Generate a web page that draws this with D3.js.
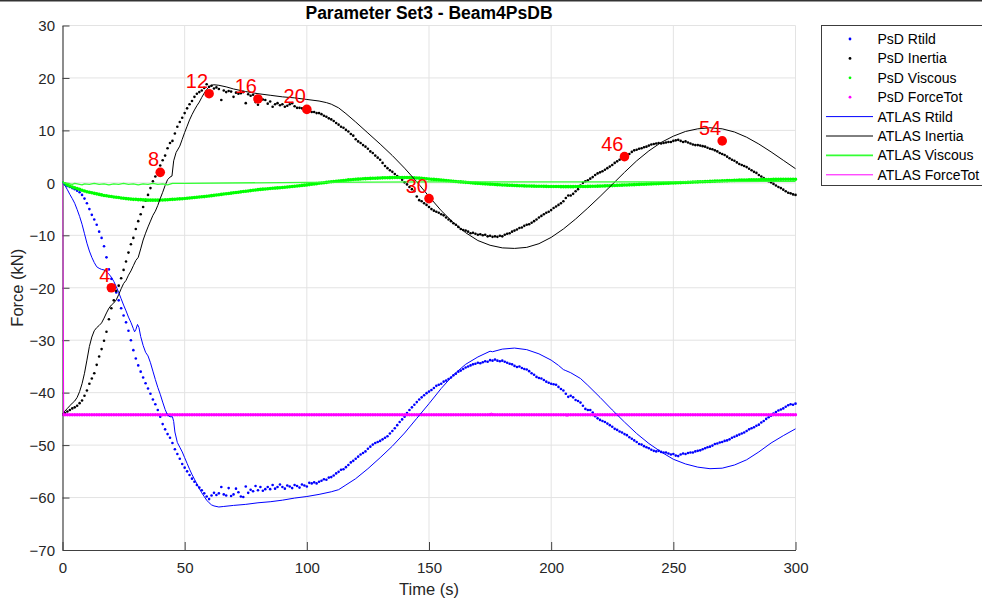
<!DOCTYPE html>
<html>
<head>
<meta charset="utf-8">
<script src="https://cdn.jsdelivr.net/npm/d3@7/dist/d3.min.js"></script>
<style>
  html, body { margin: 0; padding: 0; background: #fff; }
  svg { display: block; font-family: "Liberation Sans", Arial, Helvetica, sans-serif; }
</style>
</head>
<body>
<svg id="chart" width="982" height="600"></svg>
<script>
// ---------------- DATA ----------------
const chartTitle = "Parameter Set3 - Beam4PsDB";
const xLabel = "Time (s)";
const yLabel = "Force (kN)";
const xTicks = [0, 50, 100, 150, 200, 250, 300];
const yTicks = [30, 20, 10, 0, -10, -20, -30, -40, -50, -60, -70];

const seriesNames = ["PsD Rtild", "PsD Inertia", "PsD Viscous", "PsD ForceTot",
                     "ATLAS Rtild", "ATLAS Inertia", "ATLAS Viscous", "ATLAS ForceTot"];

// PsD samples every 1 s from 0 to 300 s
const psdTime = d3.range(0, 301, 1);

const psdRtild = [
  0,-0.3,-0.6,-0.8,-1.0,-1.2,-1.5,-1.8,-2.3,-3.0,-3.9,-5.0,-6.1,-7.0,-8.0,-9.3,-10.5,-12.1,-14.2,-16.5,-18.3,
  -19.6,-20.9,-22.4,-23.9,-25.3,-26.6,-28.2,-30.0,-31.9,-33.5,-34.8,-36.0,-37.1,-38.2,-39.2,-40.2,-41.3,-42.2,-43.3,-44.6,
  -46.0,-47.0,-47.9,-48.6,-49.6,-50.8,-51.7,-52.6,-53.6,-54.3,-55.0,-55.7,-56.4,-57.0,-57.6,-58.1,-58.6,-59.2,-59.8,-60.3,
  -59.6,-59.1,-59.5,-59.2,-58.0,-59.4,-59.6,-58.2,-59.7,-59.4,-58.3,-59.0,-59.8,-59.9,-57.9,-59.1,-58.5,-58.8,-57.8,-58.6,
  -58.0,-58.7,-58.4,-58.0,-58.4,-57.6,-58.3,-58.0,-57.5,-58.0,-58.3,-57.7,-57.9,-58.2,-57.6,-57.8,-58.1,-57.5,-57.7,-57.9,
  -57.2,-57.3,-57.1,-57.3,-57.0,-56.8,-56.5,-56.6,-56.2,-56.1,-55.8,-55.4,-55.1,-54.7,-54.6,-54.2,-53.8,-53.3,-53.0,-52.6,
  -52.2,-51.8,-51.5,-51.2,-50.7,-50.3,-49.9,-49.6,-49.4,-49.2,-48.9,-48.6,-48.3,-47.8,-47.3,-46.8,-46.2,-45.6,-45.1,-44.6,
  -43.9,-43.3,-42.8,-42.3,-41.8,-41.3,-40.9,-40.5,-40.1,-39.8,-39.5,-39.1,-38.7,-38.5,-38.3,-37.9,-37.7,-37.4,-37.1,-36.7,
  -36.4,-36.0,-35.8,-35.5,-35.2,-35.0,-34.8,-34.6,-34.5,-34.3,-34.4,-34.2,-34.0,-34.1,-33.8,-33.9,-33.7,-33.9,-34.0,-33.9,
  -34.1,-34.3,-34.5,-34.6,-34.9,-35.1,-35.0,-35.3,-35.5,-35.6,-35.9,-36.3,-36.6,-37.0,-37.2,-37.3,-37.6,-37.9,-38.1,-38.3,
  -38.4,-38.5,-38.9,-39.3,-39.6,-40.2,-40.8,-40.6,-40.9,-41.4,-41.6,-41.9,-42.5,-43.1,-43.3,-43.3,-43.8,-44.5,-44.9,-45.2,
  -45.4,-45.6,-45.9,-46.2,-46.5,-46.9,-47.1,-47.4,-47.6,-47.9,-48.1,-48.5,-48.8,-49.1,-49.4,-49.8,-49.9,-50.2,-50.4,-50.6,
  -50.9,-51.1,-51.2,-51.1,-51.3,-51.4,-51.4,-51.6,-51.8,-51.7,-52.0,-52.1,-51.8,-51.6,-51.7,-51.5,-51.4,-51.4,-51.2,-51.1,
  -51.0,-50.8,-50.6,-50.4,-50.3,-50.1,-49.8,-49.7,-49.5,-49.4,-49.2,-49.1,-48.9,-48.6,-48.4,-48.2,-48.0,-47.8,-47.6,-47.3,
  -47.0,-46.8,-46.6,-46.3,-46.1,-45.7,-45.4,-45.0,-44.7,-44.4,-44.0,-43.7,-43.4,-43.2,-43.0,-42.7,-42.4,-42.2,-42.3,-42.1
];

const psdInertia = [
  -44.2,-43.9,-43.6,-43.3,-43.0,-42.8,-42.5,-42.0,-41.5,-40.6,-39.6,-38.3,-37.3,-36.3,-34.7,-33.1,-31.7,-30.1,-28.4,-26.0,-23.9,
  -22.4,-20.6,-19.6,-18.2,-16.6,-15.0,-13.3,-11.7,-10.5,-8.8,-7.3,-6.0,-4.6,-3.4,-2.3,-1.0,0.3,1.2,2.2,3.3,
  4.3,5.2,6.6,7.6,8.0,9.4,10.7,11.6,12.4,13.3,14.2,15.0,15.6,16.4,17.0,17.3,17.6,18.1,18.8,18.3,
  18.5,18.0,18.2,17.9,15.8,17.6,17.3,17.5,17.4,16.4,17.2,17.0,17.1,17.3,15.2,16.9,16.6,16.8,15.4,14.9,
  16.3,15.9,15.8,15.1,15.5,14.5,15.0,15.2,14.8,15.0,14.5,14.7,15.0,15.2,14.6,14.3,14.3,14.2,14.0,13.9,
  13.7,13.5,13.5,13.3,13.3,13.1,12.8,12.6,12.3,12.1,11.8,11.4,11.1,10.7,10.5,10.1,9.8,9.3,9.0,8.3,
  7.9,7.6,7.2,6.9,6.5,6.0,5.7,5.2,4.8,4.4,3.8,3.2,2.8,2.4,2.1,1.7,1.3,1.0,0.6,0.1,
  -0.3,-0.8,-1.2,-1.6,-2.6,-3.3,-3.5,-3.9,-4.2,-4.6,-5.0,-5.3,-5.5,-5.7,-6.0,-6.2,-6.6,-7.0,-7.3,-7.7,
  -8.0,-8.4,-8.8,-9.0,-9.1,-9.3,-9.6,-9.5,-9.7,-9.9,-9.8,-10.0,-9.9,-10.2,-10.1,-10.3,-10.2,-10.3,-10.1,-10.2,
  -9.9,-9.7,-9.6,-9.3,-9.1,-8.9,-8.6,-8.5,-8.2,-8.0,-7.9,-7.6,-7.3,-7.0,-6.6,-6.3,-6.0,-5.7,-5.5,-5.2,
  -4.8,-4.5,-4.2,-3.9,-3.5,-2.9,-2.4,-2.4,-2.1,-1.6,-1.2,-0.5,0.0,0.3,0.5,0.8,1.1,1.5,1.8,2.0,
  2.2,2.5,2.8,3.1,3.4,3.8,4.1,4.4,4.7,5.0,5.3,5.5,5.9,6.2,6.3,6.5,6.6,6.8,6.9,7.1,
  7.3,7.4,7.5,7.6,7.5,7.6,7.7,7.8,7.8,8.0,8.1,8.2,8.0,7.8,7.9,7.7,7.5,7.3,7.2,7.2,
  7.1,7.0,6.9,6.7,6.5,6.4,6.2,6.0,5.7,5.5,5.3,5.0,4.7,4.4,4.2,3.9,3.6,3.4,3.2,3.0,
  2.7,2.4,2.1,1.9,1.5,1.2,0.9,0.6,0.3,0.1,-0.2,-0.5,-0.8,-1.0,-1.3,-1.6,-1.9,-2.0,-2.2,-2.3
];

const psdViscous = [
  0,-0.2,-0.4,-0.6,-0.8,-0.95,-1.1,-1.25,-1.4,-1.55,-1.7,-1.8,-1.9,-2.0,-2.1,-2.2,-2.3,-2.4,-2.45,-2.55,-2.6,
  -2.7,-2.75,-2.8,-2.9,-2.95,-3.0,-3.05,-3.1,-3.15,-3.15,-3.2,-3.2,-3.25,-3.25,-3.3,-3.3,-3.3,-3.3,-3.3,-3.28,
  -3.26,-3.24,-3.21,-3.18,-3.15,-3.12,-3.09,-3.05,-3.02,-2.98,-2.94,-2.9,-2.85,-2.8,-2.75,-2.7,-2.66,-2.62,-2.56,-2.5,
  -2.44,-2.38,-2.32,-2.26,-2.2,-2.14,-2.08,-2.02,-1.96,-1.9,-1.84,-1.78,-1.72,-1.66,-1.6,-1.54,-1.48,-1.42,-1.36,-1.3,
  -1.25,-1.2,-1.16,-1.12,-1.08,-1.04,-1.0,-0.96,-0.92,-0.88,-0.84,-0.79,-0.74,-0.69,-0.64,-0.59,-0.54,-0.49,-0.44,-0.39,
  -0.33,-0.27,-0.21,-0.15,-0.09,-0.03,0.03,0.09,0.15,0.21,0.26,0.31,0.36,0.41,0.46,0.51,0.56,0.6,0.64,0.68,
  0.71,0.74,0.77,0.8,0.83,0.85,0.87,0.89,0.91,0.93,0.95,0.97,0.98,0.99,1.0,1.01,1.02,1.03,1.03,1.03,
  1.02,1.0,0.98,0.96,0.93,0.9,0.86,0.82,0.78,0.74,0.7,0.66,0.62,0.57,0.52,0.48,0.43,0.39,0.34,0.3,
  0.26,0.22,0.18,0.14,0.1,0.06,0.02,-0.02,-0.06,-0.1,-0.13,-0.16,-0.19,-0.22,-0.25,-0.28,-0.31,-0.34,-0.37,-0.4,
  -0.42,-0.44,-0.46,-0.48,-0.5,-0.52,-0.54,-0.56,-0.58,-0.6,-0.61,-0.62,-0.63,-0.64,-0.65,-0.66,-0.67,-0.68,-0.69,-0.7,
  -0.7,-0.71,-0.71,-0.72,-0.72,-0.72,-0.72,-0.72,-0.72,-0.71,-0.71,-0.7,-0.7,-0.69,-0.68,-0.67,-0.66,-0.65,-0.63,-0.62,
  -0.6,-0.58,-0.56,-0.54,-0.52,-0.5,-0.48,-0.46,-0.44,-0.42,-0.4,-0.38,-0.36,-0.34,-0.32,-0.3,-0.28,-0.26,-0.24,-0.22,
  -0.2,-0.18,-0.16,-0.14,-0.12,-0.1,-0.08,-0.06,-0.04,-0.02,0.0,0.02,0.04,0.06,0.08,0.1,0.12,0.14,0.16,0.18,
  0.2,0.22,0.24,0.26,0.28,0.3,0.32,0.34,0.36,0.38,0.4,0.42,0.44,0.46,0.48,0.5,0.52,0.53,0.54,0.55,
  0.56,0.57,0.58,0.59,0.6,0.61,0.62,0.63,0.64,0.65,0.66,0.66,0.67,0.67,0.68,0.68,0.69,0.69,0.7,0.7
];

const psdForceTot = [
  -44.2,-44.2,-44.2,-44.2,-44.2,-44.2,-44.2,-44.2,-44.2,-44.2,-44.2,-44.2,-44.2,-44.2,-44.2,-44.2,-44.2,-44.2,-44.2,-44.2,-44.2,
  -44.2,-44.2,-44.2,-44.2,-44.2,-44.2,-44.2,-44.2,-44.2,-44.2,-44.2,-44.2,-44.2,-44.2,-44.2,-44.2,-44.2,-44.2,-44.2,-44.2,
  -44.2,-44.2,-44.2,-44.2,-44.2,-44.2,-44.2,-44.2,-44.2,-44.2,-44.2,-44.2,-44.2,-44.2,-44.2,-44.2,-44.2,-44.2,-44.2,-44.2,
  -44.2,-44.2,-44.2,-44.2,-44.2,-44.2,-44.2,-44.2,-44.2,-44.2,-44.2,-44.2,-44.2,-44.2,-44.2,-44.2,-44.2,-44.2,-44.2,-44.2,
  -44.2,-44.2,-44.2,-44.2,-44.2,-44.2,-44.2,-44.2,-44.2,-44.2,-44.2,-44.2,-44.2,-44.2,-44.2,-44.2,-44.2,-44.2,-44.2,-44.2,
  -44.2,-44.2,-44.2,-44.2,-44.2,-44.2,-44.2,-44.2,-44.2,-44.2,-44.2,-44.2,-44.2,-44.2,-44.2,-44.2,-44.2,-44.2,-44.2,-44.2,
  -44.2,-44.2,-44.2,-44.2,-44.2,-44.2,-44.2,-44.2,-44.2,-44.2,-44.2,-44.2,-44.2,-44.2,-44.2,-44.2,-44.2,-44.2,-44.2,-44.2,
  -44.2,-44.2,-44.2,-44.2,-44.2,-44.2,-44.2,-44.2,-44.2,-44.2,-44.2,-44.2,-44.2,-44.2,-44.2,-44.2,-44.2,-44.2,-44.2,-44.2,
  -44.2,-44.2,-44.2,-44.2,-44.2,-44.2,-44.2,-44.2,-44.2,-44.2,-44.2,-44.2,-44.2,-44.2,-44.2,-44.2,-44.2,-44.2,-44.2,-44.2,
  -44.2,-44.2,-44.2,-44.2,-44.2,-44.2,-44.2,-44.2,-44.2,-44.2,-44.2,-44.2,-44.2,-44.2,-44.2,-44.2,-44.2,-44.2,-44.2,-44.2,
  -44.2,-44.2,-44.2,-44.2,-44.2,-44.2,-44.2,-44.2,-44.2,-44.2,-44.2,-44.2,-44.2,-44.2,-44.2,-44.2,-44.2,-44.2,-44.2,-44.2,
  -44.2,-44.2,-44.2,-44.2,-44.2,-44.2,-44.2,-44.2,-44.2,-44.2,-44.2,-44.2,-44.2,-44.2,-44.2,-44.2,-44.2,-44.2,-44.2,-44.2,
  -44.2,-44.2,-44.2,-44.2,-44.2,-44.2,-44.2,-44.2,-44.2,-44.2,-44.2,-44.2,-44.2,-44.2,-44.2,-44.2,-44.2,-44.2,-44.2,-44.2,
  -44.2,-44.2,-44.2,-44.2,-44.2,-44.2,-44.2,-44.2,-44.2,-44.2,-44.2,-44.2,-44.2,-44.2,-44.2,-44.2,-44.2,-44.2,-44.2,-44.2,
  -44.2,-44.2,-44.2,-44.2,-44.2,-44.2,-44.2,-44.2,-44.2,-44.2,-44.2,-44.2,-44.2,-44.2,-44.2,-44.2,-44.2,-44.2,-44.2,-44.2
];

// ATLAS lines: [time, value] samples
const atlasRtildTime = [0,1,2,3,4,5,6,7,8,9,10,11,12,13,14,15,16,17,18,19,20,21,22,23,24,25,26,27,28,29,29.5,30,30.7,31.3,32,33,34,35,36,37,38,39,40,41,42,43,44,45,45.5,46,47,48,49,50,51,52,53,54,55,56,57,58,59,60,61,62,64,66,70,75,80,85,90,95,100,105,110,113,116,120,125,130,135,140,145,150,155,160,165,170,175,176,180,185,190,195,200,203,205,206,208,212,215,220,225,230,235,240,245,250,255,260,265,270,275,280,285,290,295,300];
const atlasRtild = [0,-0.5,-1.3,-2.2,-3.0,-3.9,-5.1,-6.4,-7.9,-9.7,-11.5,-13.0,-14.2,-15.2,-16.0,-16.3,-16.5,-16.6,-16.9,-17.4,-18.0,-18.8,-19.8,-20.9,-22.1,-23.3,-24.4,-25.6,-26.6,-27.8,-28.4,-28.0,-27.0,-27.6,-29.3,-31.0,-32.3,-33.0,-34.3,-35.9,-37.5,-39.0,-40.3,-41.8,-43.2,-44.3,-44.6,-44.6,-45.5,-47.5,-49.5,-50.4,-51.3,-52.4,-53.5,-54.6,-55.6,-56.5,-57.4,-58.3,-59.1,-59.8,-60.5,-61.0,-61.4,-61.6,-61.8,-61.7,-61.5,-61.3,-61.0,-60.8,-60.5,-60.1,-59.8,-59.4,-58.9,-58.5,-57.6,-56.4,-54.5,-52.4,-50.2,-47.7,-44.9,-42.1,-39.2,-36.6,-34.6,-33.2,-32.1,-32.2,-31.7,-31.5,-31.8,-32.6,-33.8,-34.8,-35.6,-35.8,-36.2,-37.3,-38.6,-40.9,-43.3,-45.6,-47.8,-49.7,-51.3,-52.7,-53.6,-54.2,-54.5,-54.4,-53.8,-52.8,-51.3,-49.6,-48.2,-46.9];

const atlasInertiaTime = [0,1,2,3,4,5,6,7,8,9,10,11,12,13,14,15,16,17,18,19,20,21,22,23,24,25,26,27,28,29,30,31,32,33,34,35,36,37,38,39,40,41,42,43,44,44.8,45.5,46.5,48,49,50,51,52,53,54,55,56,57,58,59,60,61,62,64,67,70,75,80,85,90,95,100,105,108,110,113,116,120,125,130,135,140,145,150,155,160,165,170,175,180,185,190,195,200,205,210,215,220,225,230,235,240,245,250,255,260,265,270,275,280,285,290,295,300];
const atlasInertia = [-44.0,-43.5,-43.0,-42.5,-42.0,-41.6,-40.9,-39.8,-38.3,-36.3,-33.8,-31.2,-29.4,-28.2,-27.6,-27.2,-26.7,-25.8,-24.8,-23.9,-23.3,-22.9,-22.3,-21.3,-20.2,-19.2,-18.6,-17.6,-16.8,-15.8,-14.8,-14.2,-12.6,-10.9,-9.6,-8.4,-7.3,-6.2,-5.4,-4.3,-3.0,-1.8,-0.5,0.6,1.1,1.3,4.2,5.8,7.0,8.3,9.6,10.8,12.0,13.0,13.9,14.7,15.4,16.3,17.1,17.8,18.3,18.6,18.7,18.6,18.3,17.9,17.4,17.0,16.7,16.4,16.2,15.9,15.6,15.3,15.0,14.3,13.2,11.6,9.5,7.4,5.2,2.8,0.2,-2.6,-5.3,-7.6,-9.5,-11.0,-11.9,-12.4,-12.5,-12.3,-11.6,-10.4,-8.8,-6.9,-4.8,-2.6,-0.3,2.0,4.2,6.1,7.7,8.9,9.8,10.3,10.5,10.3,9.7,8.7,7.4,5.9,4.3,2.7];

const atlasViscousTime = [0,2,4,5,6,8,9,11,13,15,17,19,21,23,25,27,29,31,33,35,37,39,41,43,45,50,100,150,200,250,300];
const atlasViscous = [0,-0.1,-0.3,-0.1,-0.2,-0.4,-0.2,-0.3,-0.1,-0.3,-0.2,-0.4,-0.2,-0.3,-0.1,-0.3,-0.2,-0.4,-0.2,-0.3,-0.1,-0.3,-0.2,-0.4,-0.1,-0.1,0.1,0.2,0.2,0.2,0.3];

const atlasForceTotTime = [0,0.5,100,174,175.5,177,205,206.5,208,300];
const atlasForceTot = [0,-44.2,-44.2,-44.2,-43.9,-44.2,-44.2,-44.5,-44.2,-44.2];

// Red highlighted points
const markerTimes = [20, 40, 60, 80, 100, 150, 230, 270];
const markerValues = [-20, 2, 17, 16, 14, -3, 5, 8];
const markerLabels = ["4", "8", "12", "16", "20", "30", "46", "54"];

// ---------------- DRAWING ----------------
const svg = d3.select("#chart");
const x = d3.scaleLinear().domain([0, 300]).range([62.5, 795.5]);
const y = d3.scaleLinear().domain([-70, 30]).range([550, 25.5]);

// top figure border line
svg.append("rect").attr("x", 0).attr("y", 0).attr("width", 982).attr("height", 1.5).attr("fill", "#333");

// grid
const grid = svg.append("g").attr("stroke", "#e3e3e3").attr("stroke-width", 1);
xTicks.filter(d => d > 0).forEach(d => {
  grid.append("line").attr("x1", x(d)).attr("x2", x(d)).attr("y1", y(-70)).attr("y2", y(30));
});
yTicks.filter(d => d > -70).forEach(d => {
  grid.append("line").attr("x1", x(0)).attr("x2", x(300)).attr("y1", y(d)).attr("y2", y(d));
});

// axes
const axisColor = "#404040";
const xAxis = svg.append("g").attr("transform", `translate(0,${y(-70)})`)
  .call(d3.axisBottom(x).tickValues(xTicks).tickSizeInner(-8).tickSizeOuter(0).tickPadding(0));
xAxis.select(".domain").attr("stroke", axisColor).attr("stroke-width", 1.2);
xAxis.selectAll(".tick line").attr("stroke", axisColor);
xAxis.selectAll(".tick text").attr("y", 23).attr("dy", null)
  .attr("font-size", 15).attr("fill", "#262626").style("font-family", "Liberation Sans, Arial, sans-serif");

const yAxis = svg.append("g").attr("transform", `translate(${x(0)},0)`)
  .call(d3.axisLeft(y).tickValues(yTicks).tickSizeInner(-7).tickSizeOuter(0).tickPadding(0));
yAxis.select(".domain").attr("stroke", axisColor).attr("stroke-width", 1.2);
yAxis.selectAll(".tick line").attr("stroke", axisColor);
yAxis.selectAll(".tick text").attr("x", -7.5).attr("dy", "0.35em")
  .attr("font-size", 15).attr("fill", "#262626").style("font-family", "Liberation Sans, Arial, sans-serif");

// clip to plot area
svg.append("clipPath").attr("id", "plotclip").append("rect")
  .attr("x", x(0)).attr("y", y(30) - 2).attr("width", x(300) - x(0) + 2).attr("height", y(-70) - y(30) + 2);
const plot = svg.append("g").attr("clip-path", "url(#plotclip)");

// PsD dot series
function dots(values, color, r) {
  plot.append("g").selectAll("circle").data(values).join("circle")
    .attr("cx", (d, i) => x(psdTime[i])).attr("cy", d => y(d)).attr("r", r).attr("fill", color);
}
dots(psdRtild, "#0000ff", 1.3);
dots(psdInertia, "#000000", 1.3);
dots(psdViscous, "#00ff00", 1.8);
dots(psdForceTot, "#ff00ff", 1.7);

// ATLAS lines
function line(times, values, color, w) {
  const gen = d3.line().x(d => x(d[0])).y(d => y(d[1]));
  plot.append("path").datum(times.map((t, i) => [t, values[i]]))
    .attr("d", gen).attr("fill", "none").attr("stroke", color).attr("stroke-width", w)
    .attr("stroke-linejoin", "round");
}
line(atlasRtildTime, atlasRtild, "#0000ff", 1);
line(atlasInertiaTime, atlasInertia, "#000000", 1);
line(atlasViscousTime, atlasViscous, "#33ff33", 1.3);
line(atlasForceTotTime, atlasForceTot, "#ff00ff", 1);

// red markers and labels
const mk = svg.append("g");
markerTimes.forEach((t, i) => {
  mk.append("circle").attr("cx", x(t)).attr("cy", y(markerValues[i])).attr("r", 4.8).attr("fill", "#ff0000");
  mk.append("text").attr("x", x(t) - 1).attr("y", y(markerValues[i]) - 6)
    .attr("text-anchor", "end").attr("font-size", 20).attr("fill", "#ff0000").text(markerLabels[i]);
});

// title and axis labels
svg.append("text").attr("x", (x(0) + x(300)) / 2).attr("y", 18.5).attr("text-anchor", "middle")
  .attr("font-size", 17.5).attr("font-weight", "bold").attr("fill", "#000").text(chartTitle);
svg.append("text").attr("x", (x(0) + x(300)) / 2).attr("y", 595).attr("text-anchor", "middle")
  .attr("font-size", 16.5).attr("fill", "#262626").text(xLabel);
svg.append("text").attr("transform", `translate(23,${(y(30) + y(-70)) / 2}) rotate(-90)`)
  .attr("text-anchor", "middle").attr("font-size", 16.5).attr("fill", "#262626").text(yLabel);

// legend
const legendColors = ["#0000ff", "#000000", "#00ff00", "#ff00ff", "#0000ff", "#000000", "#33ff33", "#ff00ff"];
const lg = svg.append("g");
lg.append("rect").attr("x", 821.5).attr("y", 25.5).attr("width", 200).attr("height", 160)
  .attr("fill", "#fff").attr("stroke", "#3c3c3c").attr("stroke-width", 1);
seriesNames.forEach((name, i) => {
  const cy = 39 + i * 19.4;
  if (i < 4) {
    lg.append("circle").attr("cx", 850).attr("cy", cy).attr("r", 1.4).attr("fill", legendColors[i]);
  } else {
    lg.append("line").attr("x1", 826).attr("x2", 873).attr("y1", cy).attr("y2", cy)
      .attr("stroke", legendColors[i]).attr("stroke-width", i === 6 ? 1.6 : 1);
  }
  lg.append("text").attr("x", 877.5).attr("y", cy + 5).attr("font-size", 14).attr("fill", "#000").text(name);
});
</script>
</body>
</html>
